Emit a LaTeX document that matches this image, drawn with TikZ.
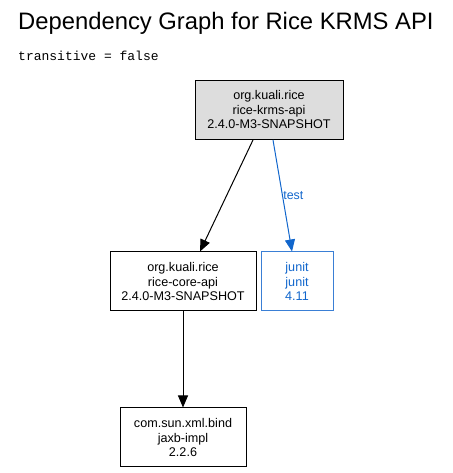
\documentclass[tikz,border=0pt]{standalone}
\usepackage{fontspec}
\setmainfont{Liberation Sans}
\setmonofont{Liberation Mono}
\usetikzlibrary{arrows.meta,positioning}
\definecolor{rootgray}{HTML}{DDDDDD}
\definecolor{testblue}{HTML}{1166CC}
\definecolor{testedge}{HTML}{3A7FD5}
\tikzset{
  pkg/.style     ={draw, rectangle, minimum height=59pt, inner sep=2pt,
                   align=center, font=\fontsize{12.6}{14.5}\selectfont,
                   line width=1pt},
  rootpkg/.style ={pkg, fill=rootgray},
  testpkg/.style ={pkg, draw=testedge, text=testblue},
  dep/.style     ={-{Triangle[length=12pt,width=10pt]}, line width=1pt},
  testdep/.style ={-{Triangle[length=12pt,width=10pt]}, line width=1pt,
                   testblue},
  elbl/.style    ={font=\fontsize{12.4}{13}\selectfont, text=testblue},
}
\begin{document}
\begin{tikzpicture}[x=1pt,y=1pt]
  \useasboundingbox (0,0) rectangle (452,473);
  \node[anchor=base west, inner sep=0pt, font=\fontsize{23.8}{26}\selectfont]
    (title) at (18,443) {Dependency Graph for Rice KRMS API};
  \node[anchor=base west, inner sep=0pt, font=\ttfamily\fontsize{13}{15}\selectfont]
    (trans) at (18,412) {transitive = false};
  % packages
  \node[rootpkg, minimum width=148pt] (krms) at (269,363)
    {org.kuali.rice\\rice-krms-api\\2.4.0-M3-SNAPSHOT};
  \node[pkg, minimum width=146pt] (core) at (183,191.5)
    {org.kuali.rice\\rice-core-api\\2.4.0-M3-SNAPSHOT};
  \node[testpkg, minimum width=72pt] (junit) at (297,191.5)
    {junit\\junit\\4.11};
  \node[pkg, minimum width=126pt] (jaxb) at (183,35.5)
    {com.sun.xml.bind\\jaxb-impl\\2.2.6};
  % dependencies
  \draw[dep] (krms.south -| 253,0) -- (core.north -| 200,0);
  \draw[testdep] (krms.south -| 273,0) -- node[elbl, right=-3pt, pos=0.5] {test}
    (junit.north -| 292,0);
  \draw[dep] (core) -- (jaxb);
\end{tikzpicture}
\end{document}
